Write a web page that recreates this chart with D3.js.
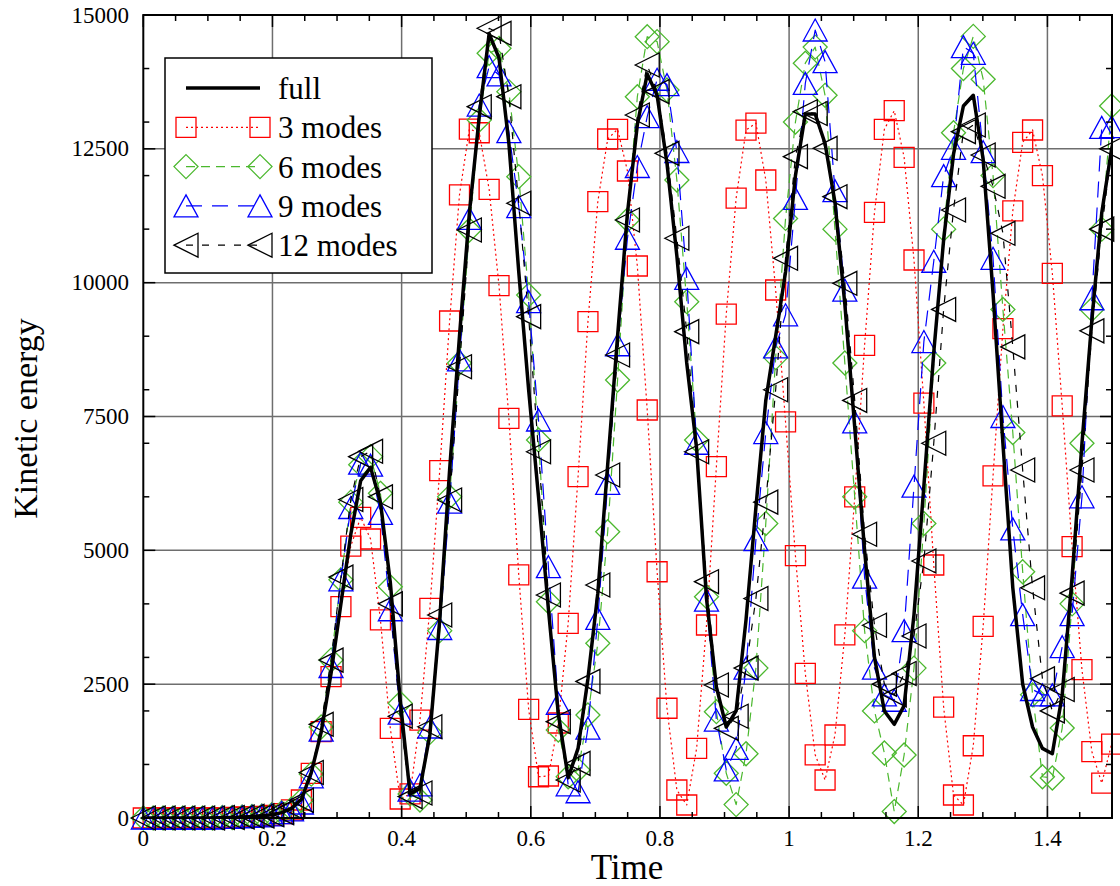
<!DOCTYPE html>
<html>
<head>
<meta charset="utf-8">
<script src="https://cdn.jsdelivr.net/npm/d3@7"></script>
<style>
body{margin:0;background:#fff;}
svg{display:block;font-family:"Liberation Serif","Times New Roman",serif;}
</style>
</head>
<body>
<svg id="chart" width="1120" height="886"></svg>
<script>
// sampling step of the runs (time between two stored points)
var dt = 0.0153;

var full = [0,0,0,0,0,0,0,0,10,10, 20,30,40,60,100,180,350,850,1600,2700,
  4000,5300,6300,6550,5900,4400,2200,450,550,1550, 3700,6500,9000,11300,13100,14650,14200,12600,10200,8000,
  6000,3900,1950,750,1300,2600,4200,6600,9000,11300, 12950,13900,13500,12230,10500,8500,6900,4100,2450,1700,
  2000,3700,5800,7800,9000,10200,12000,13150,13150,12600, 11500,9600,7300,5000,3000,2000,1750,2100,3800,6200,
  8700,10800,12400,13300,13500,12300,9800,7000,4300,2500, 1700,1300,1200,2300,4500,7000,9300,11300,12500,13300];

var modes3 = [0,0,0,0,0,0,0,0,0,10, 20,20,30,50,80,150,336,835,1612,2640,
  3947,5080,5617,5212,3700,1675,355,450,1830,3917, 6488,9284,11640,12870,12800,11744,9943,7466,4540,2030,
  771,785,1775,3637,6376,9271,11513,12684,12865,12086, 10311,7621,4600,2050,523,243,1302,3605,6562,9414,
  11580,12850,12980,11918,9863,7400,4900,2700,1180,710, 1550,3420,6000,8830,11314,12865,13212,12342,10423,7750,
  4726,2070,430,243,1350,3580,6390,9140,11340,12622, 12852,12000,10175,7700,5070,2770,1240,650,1380,3300];

var modes6 = [0,0,0,0,0,0,0,0,10,10, 20,30,40,60,100,170,330,820,1700,2950,
  4450,5900,6600,6750,6065,4321,2143,450,336,1600, 3500,6000,8500,10984,13038,14285,14378,13568,11980,9770,
  7061,4040,1644,771,897,1924,3263,5348,8182,11170, 13474,14595,14502,13600,11918,9645,7061,4134,1986,835,
  250,1200,2800,5500,8600,11200,13000,14100,14400,13500, 11000,8500,6000,3500,2000,1214,120,1177,2800,5500,
  8500,11000,12800,14000,14600,13800,12000,9500,7200,4600, 2300,771,747,1680,4000,7000,9500,11000,13300,14200];

var modes9 = [0,0,0,0,0,0,0,0,10,10, 20,30,40,60,100,150,280,770,1640,2830,
  4450,5800,6630,6590,5690,3890,1960,520,620,1700, 3540,5900,8556,11202,13318,14035,13880,12820,11420,9645,
  7435,4694,2140,620,490,1680,3730,6250,8840,10830, 12170,13100,13800,13700,12450,10080,7000,4070,1830,900,
  1300,2800,5200,7200,8800,9400,11575,13723,14720,14130, 11720,9860,7400,4500,2800,2300,2200,3500,6200,8900,
  10400,12000,12510,14410,14285,12446,10455,7500,5400,3800, 2400,2300,2300,3200,3800,6000,9700,12900,12914,13500];

var modes12 = [0,0,0,0,0,0,0,0,10,10, 20,30,40,60,100,200,330,850,1750,2950,
  4500,5950,6750,6850,6000,4000,1900,400,467,1705, 3792,5940,8430,10984,13287,14752,14658,13474,11484,9365,
  6842,4165,1799,710,1021,2552,4352,6407,8649,11170, 13132,14066,13568,12416,10829,9085,6842,4414,2484,1675,
  1900,2800,4100,5900,8000,10455,12354,13194,13160,12510, 11606,9988,7800,5300,3600,2500,2300,2700,3400,4800,
  7000,9500,11358,12820,12945,12385,11800,10922,8800,6500, 4300,2600,2000,2400,4200,6500,9100,11000,12500,13300];

var xTicks = [0, 0.2, 0.4, 0.6, 0.8, 1, 1.2, 1.4];
var xTickLabels = ["0", "0.2", "0.4", "0.6", "0.8", "1", "1.2", "1.4"];
var xMinor = [0.05, 0.1, 0.15, 0.25, 0.3, 0.35, 0.45, 0.5, 0.55, 0.65, 0.7, 0.75, 0.85, 0.9, 0.95, 1.05, 1.1, 1.15, 1.25, 1.3, 1.35, 1.45];
var yTicks = [0, 2500, 5000, 7500, 10000, 12500, 15000];
var yTickLabels = ["0", "2500", "5000", "7500", "10000", "12500", "15000"];
var yMinor = [1000, 2000, 3000, 4000, 6000, 7000, 8000, 9000, 11000, 12000, 13000, 14000];
var seriesNames = ["full", "3 modes", "6 modes", "9 modes", "12 modes"];

var plotL = 143.3, plotR = 1112, plotT = 15, plotB = 818;

var x = d3.scaleLinear().domain([0, 1.5]).range([plotL, plotR]);
var y = d3.scaleLinear().domain([0, 15000]).range([plotB, plotT]);

var svg = d3.select("#chart");

svg.append("defs").append("clipPath").attr("id", "plotclip")
  .append("rect").attr("x", plotL).attr("y", plotT)
  .attr("width", plotR - plotL).attr("height", plotB - plotT);

// grid lines
var grid = svg.append("g").attr("class", "grid");
grid.selectAll(".gx").data(xTicks.slice(1)).enter().append("line")
  .attr("x1", d => x(d)).attr("x2", d => x(d))
  .attr("y1", plotT).attr("y2", plotB)
  .attr("stroke", "#6e6e6e").attr("stroke-width", 1.5);
grid.selectAll(".gy").data(yTicks.slice(1, -1)).enter().append("line")
  .attr("x1", plotL).attr("x2", plotR)
  .attr("y1", d => y(d)).attr("y2", d => y(d))
  .attr("stroke", "#6e6e6e").attr("stroke-width", 1.5);

// series styles
var styles = [
  {data: full,    color: "#000000", width: 3.5, dash: null,    symbol: null},
  {data: modes3,  color: "#ff0000", width: 1.2, dash: "2,3",   symbol: "square"},
  {data: modes6,  color: "#4bb82e", width: 1.2, dash: "9,6",   symbol: "diamond"},
  {data: modes9,  color: "#0000ff", width: 1.2, dash: "16,10", symbol: "triUp"},
  {data: modes12, color: "#000000", width: 1.2, dash: "7,9",   symbol: "triLeft"}
];

function symbolPath(kind) {
  if (kind === "square") return "M-10,-10H10V10H-10Z";
  if (kind === "diamond") return "M0,-12L12,0L0,12L-12,0Z";
  if (kind === "triUp") return "M0,-11L12,11L-12,11Z";
  if (kind === "triLeft") return "M-12,0L12,-12L12,12Z";
  return "";
}

var line = d3.line()
  .x((d, i) => x(i * dt))
  .y(d => y(d));

var plot = svg.append("g");
var drawOrder = [1, 2, 3, 4, 0];
drawOrder.forEach(function(k) {
  var s = styles[k];
  var g = plot.append("g");
  g.append("path")
    .attr("clip-path", "url(#plotclip)")
    .attr("d", line(s.data))
    .attr("fill", "none")
    .attr("stroke", s.color)
    .attr("stroke-width", s.width)
    .attr("stroke-dasharray", s.dash)
    .attr("stroke-linejoin", "round");
  if (s.symbol) {
    g.selectAll("path.m").data(s.data.map((v, i) => [i * dt, v]).filter(p => p[0] <= 1.5))
      .enter().append("path").attr("class", "m")
      .attr("d", symbolPath(s.symbol))
      .attr("transform", p => "translate(" + x(p[0]) + "," + y(p[1]) + ")")
      .attr("fill", "none")
      .attr("stroke", s.color)
      .attr("stroke-width", 1.3);
  }
});

// frame and ticks
svg.append("rect").attr("x", plotL).attr("y", plotT)
  .attr("width", plotR - plotL).attr("height", plotB - plotT)
  .attr("fill", "none").attr("stroke", "#000").attr("stroke-width", 2);

var ticks = svg.append("g").attr("stroke", "#000").attr("stroke-width", 1.5);
function tickX(vals, len) {
  vals.forEach(function(v) {
    ticks.append("line").attr("x1", x(v)).attr("x2", x(v)).attr("y1", plotB).attr("y2", plotB - len);
    ticks.append("line").attr("x1", x(v)).attr("x2", x(v)).attr("y1", plotT).attr("y2", plotT + len);
  });
}
function tickY(vals, len) {
  vals.forEach(function(v) {
    ticks.append("line").attr("x1", plotL).attr("x2", plotL + len).attr("y1", y(v)).attr("y2", y(v));
    ticks.append("line").attr("x1", plotR).attr("x2", plotR - len).attr("y1", y(v)).attr("y2", y(v));
  });
}
tickX(xTicks, 12); tickX(xMinor, 6);
tickY(yTicks, 12); tickY(yMinor, 6);

// tick labels
svg.selectAll(".xl").data(xTicks).enter().append("text")
  .attr("x", d => x(d)).attr("y", 846)
  .attr("text-anchor", "middle").attr("font-size", 23)
  .text((d, i) => xTickLabels[i]);
svg.selectAll(".yl").data(yTicks).enter().append("text")
  .attr("x", 129).attr("y", d => y(d) + 7.5)
  .attr("text-anchor", "end").attr("font-size", 23)
  .text((d, i) => yTickLabels[i]);

// axis titles
svg.append("text").attr("x", 627).attr("y", 879)
  .attr("text-anchor", "middle").attr("font-size", 35).text("Time");
svg.append("text").attr("transform", "translate(37," + ((plotT + plotB) / 2 + 2) + ") rotate(-90)")
  .attr("text-anchor", "middle").attr("font-size", 34).text("Kinetic energy");

// legend
var lg = svg.append("g");
lg.append("rect").attr("x", 165).attr("y", 58).attr("width", 267).attr("height", 215)
  .attr("fill", "#fff").attr("stroke", "#000").attr("stroke-width", 1.5);
styles.forEach(function(s, k) {
  var ly = 88 + k * 39.3;
  lg.append("line").attr("x1", 186).attr("x2", 260).attr("y1", ly).attr("y2", ly)
    .attr("stroke", s.color).attr("stroke-width", k === 0 ? 3.5 : 1.2)
    .attr("stroke-dasharray", s.dash);
  if (s.symbol) {
    [186, 260].forEach(function(sx) {
      lg.append("path").attr("d", symbolPath(s.symbol))
        .attr("transform", "translate(" + sx + "," + ly + ")")
        .attr("fill", "none").attr("stroke", s.color).attr("stroke-width", 1.3);
    });
  }
  lg.append("text").attr("x", 278).attr("y", ly + 11).attr("font-size", 31).text(seriesNames[k]);
});
</script>
</body>
</html>
